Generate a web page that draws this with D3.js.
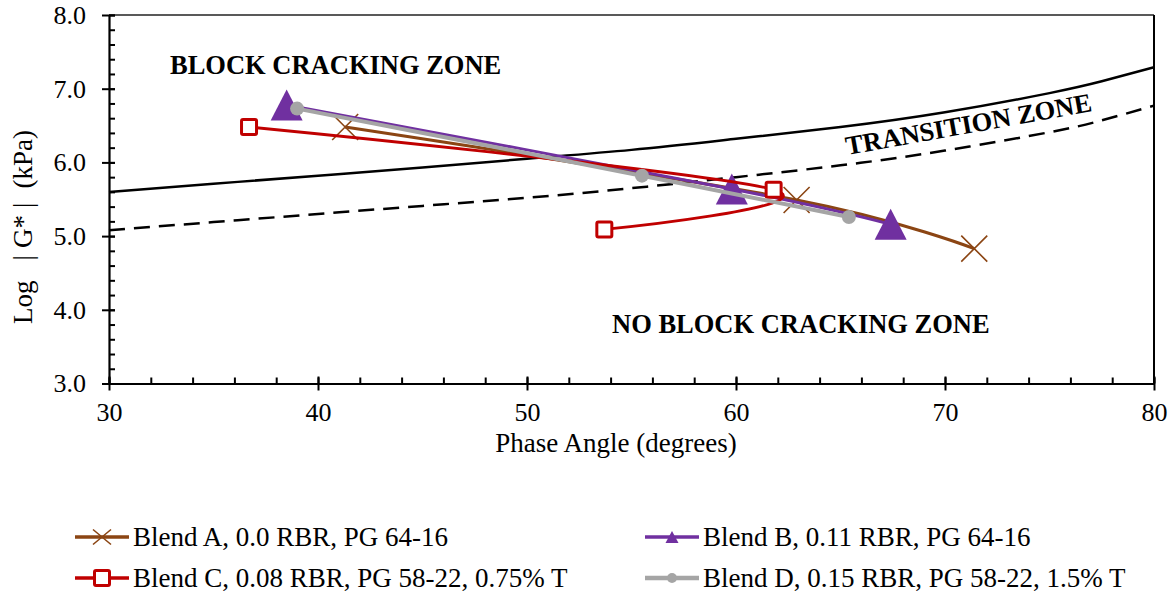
<!DOCTYPE html>
<html lang="en">
<head>
  <meta charset="UTF-8">
  <title>Black space diagram</title>
  <script src="https://d3js.org/d3.v7.min.js"></script>
  <style>
    body { margin: 0; background: #fff; }
    text { font-family: "Liberation Serif", "Times New Roman", serif; fill: #000; }
  </style>
</head>
<body>

<div id="chart"></div>

<script>
  // Datos
  const xTicks = [30, 40, 50, 60, 70, 80];
  const yTicks = [3, 4, 5, 6, 7, 8];

  // límites de las zonas (línea continua y discontinua)
  const limitAngle = [30, 35, 40, 45, 50, 55, 60, 65, 70, 75, 77.5, 80];
  const limitSolid = [5.60, 5.71, 5.82, 5.93, 6.05, 6.17, 6.32, 6.48, 6.68, 6.94, 7.10, 7.29];
  const limitDashed = [5.08, 5.19, 5.30, 5.41, 5.52, 5.65, 5.80, 5.96, 6.16, 6.41, 6.57, 6.77];

  // series
  const blendAAngle = [41.3, 62.9, 71.4];
  const blendALogG = [6.48, 5.49, 4.83];
  const blendBAngle = [38.5, 59.8, 67.4];
  const blendBLogG = [6.78, 5.64, 5.16];
  const blendCAngle = [36.7, 61.8, 53.7];
  const blendCLogG = [6.48, 5.63, 5.09];
  const blendDAngle = [39.0, 55.5, 65.4];
  const blendDLogG = [6.73, 5.82, 5.26];

  const seriesNames = [
    "Blend A, 0.0 RBR, PG 64-16",
    "Blend B, 0.11 RBR, PG 64-16",
    "Blend C, 0.08 RBR, PG 58-22, 0.75% T",
    "Blend D, 0.15 RBR, PG 58-22, 1.5% T"
  ];

  const width = 1173;
  const height = 594;
  const plotLeft = 109, plotRight = 1154, plotTop = 15, plotBottom = 383.5;

  const svg = d3.select("#chart")
    .append("svg")
    .attr("width", width)
    .attr("height", height);

  const x = d3.scaleLinear().domain([30, 80]).range([plotLeft, plotRight]);
  const y = d3.scaleLinear().domain([3, 8]).range([plotBottom, plotTop]);

  const zip = (a, b) => a.map((v, i) => [v, b[i]]);

  const series = [
    { name: seriesNames[0], pts: zip(blendAAngle, blendALogG), color: "#8B4513", width: 3.2, marker: "x" },
    { name: seriesNames[1], pts: zip(blendBAngle, blendBLogG), color: "#7030A0", width: 3, marker: "triangle" },
    { name: seriesNames[2], pts: zip(blendCAngle, blendCLogG), color: "#C00000", width: 2.8, marker: "square" },
    { name: seriesNames[3], pts: zip(blendDAngle, blendDLogG), color: "#A5A5A5", width: 4, marker: "circle" }
  ];

  // borde superior y derecho
  svg.append("line")
    .attr("x1", plotLeft).attr("x2", plotRight).attr("y1", plotTop).attr("y2", plotTop)
    .attr("stroke", "#222").attr("stroke-width", 1.5);
  svg.append("line")
    .attr("x1", plotRight).attr("x2", plotRight).attr("y1", plotTop).attr("y2", plotBottom)
    .attr("stroke", "#000").attr("stroke-width", 2);

  // límites de zona
  const limitLine = d3.line()
    .x(d => x(d[0]))
    .y(d => y(d[1]))
    .curve(d3.curveNatural);

  svg.append("path")
    .datum(zip(limitAngle, limitSolid))
    .attr("d", limitLine)
    .attr("fill", "none")
    .attr("stroke", "#000")
    .attr("stroke-width", 2.5);

  svg.append("path")
    .datum(zip(limitAngle, limitDashed))
    .attr("d", limitLine)
    .attr("fill", "none")
    .attr("stroke", "#000")
    .attr("stroke-width", 2.5)
    .attr("stroke-dasharray", "16,9");

  // ejes
  const xMinor = svg.append("g")
    .attr("transform", `translate(0,${plotBottom})`)
    .call(d3.axisBottom(x).tickValues(d3.range(30, 81, 2)).tickSize(-6).tickFormat(""));
  xMinor.select(".domain").remove();
  xMinor.selectAll("line").attr("stroke-width", 2);

  const xMajor = svg.append("g")
    .attr("transform", `translate(0,${plotBottom})`)
    .call(d3.axisBottom(x).tickValues(xTicks).tickSize(7).tickPadding(12).tickSizeOuter(0));
  xMajor.selectAll(".tick line").attr("y1", -7).attr("stroke-width", 2);
  xMajor.select(".domain").attr("stroke-width", 2.2);
  xMajor.selectAll("text").attr("font-size", "26px").attr("font-family", "Liberation Serif");

  const yMinor = svg.append("g")
    .attr("transform", `translate(${plotLeft},0)`)
    .call(d3.axisLeft(y).tickValues(d3.range(30, 81, 2).map(v => v / 10)).tickSize(-6).tickFormat(""));
  yMinor.select(".domain").remove();
  yMinor.selectAll("line").attr("stroke-width", 2);

  const yMajor = svg.append("g")
    .attr("transform", `translate(${plotLeft},0)`)
    .call(d3.axisLeft(y).tickValues(yTicks).tickSize(7).tickPadding(16)
      .tickSizeOuter(0).tickFormat(d3.format(".1f")));
  yMajor.selectAll(".tick line").attr("x2", -7).attr("x1", 6).attr("stroke-width", 2);
  yMajor.select(".domain").attr("stroke-width", 2.2);
  yMajor.selectAll("text").attr("font-size", "26px").attr("font-family", "Liberation Serif");

  // títulos de ejes
  svg.append("text")
    .attr("x", 616).attr("y", 452)
    .attr("text-anchor", "middle")
    .attr("font-size", "27px")
    .text("Phase Angle (degrees)");

  const yTitle = svg.append("text")
    .attr("transform", "translate(32,227) rotate(-90)")
    .attr("text-anchor", "middle")
    .attr("font-size", "27px");
  yTitle.append("tspan").text("Log");
  yTitle.append("tspan").attr("dx", 20).text("|");
  yTitle.append("tspan").attr("dx", 7).text("G*");
  yTitle.append("tspan").attr("dx", 7).text("|");
  yTitle.append("tspan").attr("dx", 14).text("(kPa)");

  // etiquetas de zona
  svg.append("text")
    .attr("x", 170).attr("y", 74)
    .attr("font-size", "26.5px").attr("font-weight", "bold")
    .text("BLOCK CRACKING ZONE");

  svg.append("text")
    .attr("x", 612).attr("y", 333)
    .attr("font-size", "26.5px").attr("font-weight", "bold")
    .text("NO BLOCK CRACKING ZONE");

  svg.append("text")
    .attr("transform", "translate(970,133) rotate(-10.2)")
    .attr("text-anchor", "middle")
    .attr("font-size", "26.5px").attr("font-weight", "bold")
    .text("TRANSITION ZONE");

  // marcadores
  function drawMarker(g, type, color, cx, cy, s) {
    if (type === "x") {
      const h = s.w / 2, v = s.h / 2;
      g.append("path")
        .attr("d", `M${cx - h},${cy - v}L${cx + h},${cy + v}M${cx - h},${cy + v}L${cx + h},${cy - v}`)
        .attr("stroke", color).attr("stroke-width", 1.6).attr("fill", "none");
    } else if (type === "triangle") {
      const h = s.w / 2, v = s.h / 2;
      g.append("path")
        .attr("d", `M${cx},${cy - v}L${cx + h},${cy + v}L${cx - h},${cy + v}Z`)
        .attr("fill", color);
    } else if (type === "square") {
      g.append("rect")
        .attr("x", cx - s.w / 2).attr("y", cy - s.w / 2)
        .attr("width", s.w).attr("height", s.w)
        .attr("rx", 1.5)
        .attr("fill", "#fff").attr("stroke", color).attr("stroke-width", 3);
    } else {
      g.append("circle")
        .attr("cx", cx).attr("cy", cy).attr("r", s.w / 2)
        .attr("fill", color);
    }
  }

  const plotSize = { x: { w: 26, h: 26 }, triangle: { w: 32, h: 31 }, square: { w: 15, h: 15 }, circle: { w: 14, h: 14 } };
  const legendSize = { x: { w: 18, h: 15 }, triangle: { w: 13, h: 12 }, square: { w: 15, h: 15 }, circle: { w: 10, h: 10 } };

  // suavizado tipo Excel (Catmull-Rom uniforme)
  const seriesLine = d3.line()
    .x(d => x(d[0]))
    .y(d => y(d[1]))
    .curve(d3.curveCatmullRom.alpha(0));

  series.forEach(s => {
    const g = svg.append("g");
    g.append("path")
      .datum(s.pts)
      .attr("d", seriesLine)
      .attr("fill", "none")
      .attr("stroke", s.color)
      .attr("stroke-width", s.width)
      .attr("stroke-linejoin", "round");
    s.pts.forEach(p => drawMarker(g, s.marker, s.color, x(p[0]), y(p[1]), plotSize[s.marker]));
  });

  // leyenda
  const legendPos = [[75, 537], [645, 537], [75, 578], [645, 578]];
  series.forEach((s, i) => {
    const [lx, ly] = legendPos[i];
    const g = svg.append("g");
    g.append("line")
      .attr("x1", lx).attr("x2", lx + 54).attr("y1", ly).attr("y2", ly)
      .attr("stroke", s.color).attr("stroke-width", s.width + 0.5);
    drawMarker(g, s.marker, s.color, lx + 27, ly, legendSize[s.marker]);
    g.append("text")
      .attr("x", lx + 58).attr("y", ly + 9)
      .attr("font-size", "27px")
      .text(s.name);
  });
</script>

</body>
</html>
